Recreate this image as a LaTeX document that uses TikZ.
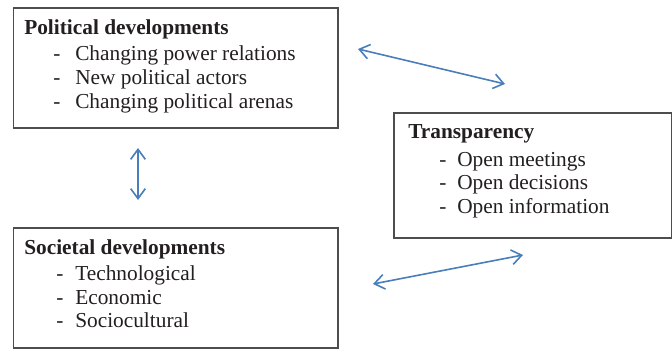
\documentclass[tikz,border=0pt]{standalone}
\usepackage{fontspec}
\setmainfont{Liberation Serif}
\usetikzlibrary{arrows.meta}
\definecolor{txt}{HTML}{231F20}
\definecolor{boxline}{HTML}{4D4D4D}
\definecolor{arrowblue}{HTML}{4A7EBB}
\tikzset{
  box/.style={draw=boxline, line width=1.2pt, anchor=north west, inner sep=0pt},
  ttl/.style={anchor=base west, inner sep=0pt, text=txt, font=\fontsize{16}{18}\selectfont\bfseries},
  itm/.style={anchor=base west, inner sep=0pt, text=txt, font=\fontsize{16}{18}\selectfont},
  link/.style={draw=arrowblue, line width=1.2pt, {Straight Barb[length=7.5pt,width=11pt]}-{Straight Barb[length=7.5pt,width=11pt]}}
}
\begin{document}
\begin{tikzpicture}[x=0.75pt,y=-0.75pt]
\useasboundingbox (0,0) rectangle (672,349);
% boxes
\node[box, minimum width=324.5pt*0.75, minimum height=120pt*0.75] (pol) at (12.5,7.5) {};
\node[box, minimum width=278pt*0.75, minimum height=125pt*0.75] (tra) at (393,112) {};
\node[box, minimum width=324.5pt*0.75, minimum height=119.5pt*0.75] (soc) at (12.5,227.5) {};
% political
\node[ttl] (polt) at (24,35) {Political developments};
\node[itm] (pol1) at (53,61) {\makebox[16.5pt][l]{-}Changing power relations};
\node[itm] (pol2) at (53,85) {\makebox[16.5pt][l]{-}New political actors};
\node[itm] (pol3) at (53,109) {\makebox[16.5pt][l]{-}Changing political arenas};
% transparency
\node[ttl] (trat) at (408,139) {Transparency};
\node[itm] (tra1) at (439,167) {\makebox[13.5pt][l]{-}Open meetings};
\node[itm] (tra2) at (439,190) {\makebox[13.5pt][l]{-}Open decisions};
\node[itm] (tra3) at (439,214) {\makebox[13.5pt][l]{-}Open information};
% societal
\node[ttl] (soct) at (24,255) {Societal developments};
\node[itm] (soc1) at (56,281) {\makebox[14.25pt][l]{-}Technological};
\node[itm] (soc2) at (56,305) {\makebox[14.25pt][l]{-}Economic};
\node[itm] (soc3) at (56,328) {\makebox[14.25pt][l]{-}Sociocultural};
% arrow end points
\coordinate (a1s) at (358,49);
\coordinate (a1e) at (505,84);
\coordinate (a2s) at (138,148);
\coordinate (a2e) at (138,200);
\coordinate (a3s) at (373,284);
\coordinate (a3e) at (523,255);
\draw[link] (a1s) -- (a1e);
\draw[link] (a2s) -- (a2e);
\draw[link] (a3s) -- (a3e);
\end{tikzpicture}
\end{document}
